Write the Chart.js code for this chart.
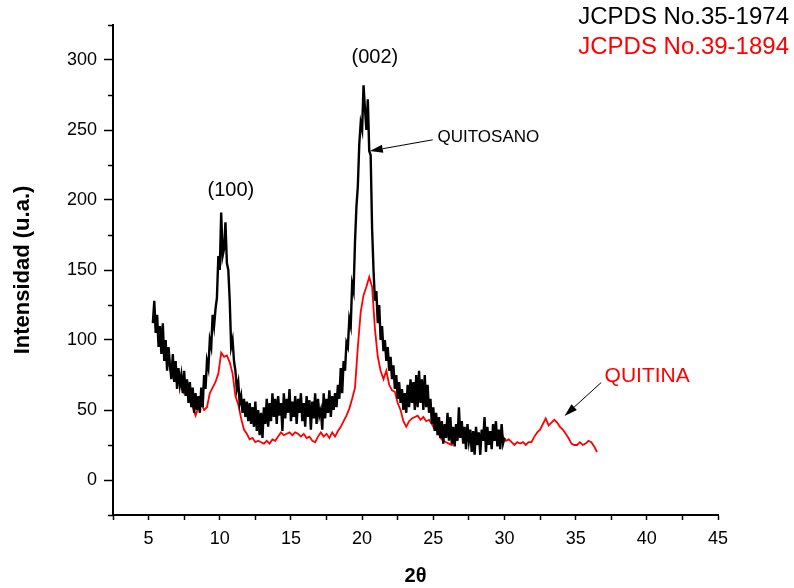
<!DOCTYPE html>
<html>
<head>
<meta charset="utf-8">
<script src="https://cdn.jsdelivr.net/npm/chart.js@4.4.1/dist/chart.umd.min.js"></script>
<style>
  body { margin: 0; background: #fff; }
  #wrap { width: 794px; height: 588px; }
</style>
</head>
<body>
<div id="wrap"><canvas id="xrd" width="794" height="588"></canvas></div>
<script>
// QUITOSANO (black), 2theta 5.3 .. 30.0
var chitosanAngle = [
  5.3,5.4,5.5,5.6,5.7,5.8,5.9,6.0,6.1,6.2,
  6.3,6.4,6.5,6.6,6.7,6.8,6.9,7.0,7.1,7.2,
  7.3,7.4,7.5,7.6,7.7,7.8,7.9,8.0,8.1,8.2,
  8.3,8.4,8.5,8.6,8.7,8.8,8.9,9.0,9.1,9.2,
  9.3,9.4,9.5,9.6,9.7,9.8,9.9,10.0,10.1,10.2,
  10.3,10.4,10.5,10.6,10.7,10.8,10.9,11.0,11.1,11.2,
  11.3,11.4,11.5,11.6,11.7,11.8,11.9,12.0,12.1,12.2,
  12.3,12.4,12.5,12.6,12.7,12.8,12.9,13.0,13.1,13.2,
  13.3,13.4,13.5,13.6,13.7,13.8,13.9,14.0,14.1,14.2,
  14.3,14.4,14.5,14.6,14.7,14.8,14.9,15.0,15.1,15.2,
  15.3,15.4,15.5,15.6,15.7,15.8,15.9,16.0,16.1,16.2,
  16.3,16.4,16.5,16.6,16.7,16.8,16.9,17.0,17.1,17.2,
  17.3,17.4,17.5,17.6,17.7,17.8,17.9,18.0,18.1,18.2,
  18.3,18.4,18.5,18.6,18.7,18.8,18.9,19.0,19.1,19.2,
  19.3,19.4,19.5,19.6,19.7,19.8,19.9,20.0,20.1,20.2,
  20.3,20.4,20.5,20.6,20.7,20.8,20.9,21.0,21.1,21.2,
  21.3,21.4,21.5,21.6,21.7,21.8,21.9,22.0,22.1,22.2,
  22.3,22.4,22.5,22.6,22.7,22.8,22.9,23.0,23.1,23.2,
  23.3,23.4,23.5,23.6,23.7,23.8,23.9,24.0,24.1,24.2,
  24.3,24.4,24.5,24.6,24.7,24.8,24.9,25.0,25.1,25.2,
  25.3,25.4,25.5,25.6,25.7,25.8,25.9,26.0,26.1,26.2,
  26.3,26.4,26.5,26.6,26.7,26.8,26.9,27.0,27.1,27.2,
  27.3,27.4,27.5,27.6,27.7,27.8,27.9,28.0,28.1,28.2,
  28.3,28.4,28.5,28.6,28.7,28.8,28.9,29.0,29.1,29.2,
  29.3,29.4,29.5,29.6,29.7,29.8,29.9,30.0
];
var chitosanCounts = [
  112,128,105,118,95,110,90,112,85,100,
  78,95,82,72,90,70,85,65,80,68,
  75,62,78,60,72,55,70,52,66,48,
  62,50,60,48,66,52,75,65,85,80,
  100,95,118,110,122,130,160,150,191,160,
  165,184,155,150,128,95,100,85,78,65,
  70,55,60,48,58,45,56,42,55,40,
  52,38,56,35,50,32,48,30,52,40,
  58,38,55,42,62,45,58,40,60,46,
  55,35,62,44,58,48,65,42,56,45,
  60,40,58,48,62,42,55,38,60,45,
  57,36,56,44,62,40,58,46,50,36,
  62,44,58,48,64,45,60,50,62,52,
  68,58,80,62,85,78,98,95,115,110,
  140,135,170,195,210,240,255,250,282,265,
  250,272,235,232,180,150,128,135,112,125,
  100,110,92,100,85,95,78,88,72,82,
  65,75,58,70,55,65,50,62,48,68,
  52,72,55,70,50,75,52,78,55,72,
  50,75,52,68,48,58,40,52,35,48,
  32,45,30,42,26,40,30,48,28,45,
  26,38,24,40,28,52,30,42,26,38,
  22,40,28,36,20,35,18,38,25,34,
  18,36,28,45,20,38,25,35,22,40,
  28,42,24,36,22,40,26,30
];

// QUITINA (red), 2theta 5.9 .. 36.5
var chitinAngle = [
  5.9,6.1,6.3,6.5,6.7,6.9,7.1,7.3,7.5,7.7,
  7.9,8.1,8.3,8.5,8.7,8.9,9.1,9.3,9.5,9.7,
  9.9,10.1,10.3,10.5,10.7,10.9,11.1,11.3,11.5,11.7,
  11.9,12.1,12.3,12.5,12.7,12.9,13.1,13.3,13.5,13.7,
  13.9,14.1,14.3,14.5,14.7,14.9,15.1,15.3,15.5,15.7,
  15.9,16.1,16.3,16.5,16.7,16.9,17.1,17.3,17.5,17.7,
  17.9,18.1,18.3,18.5,18.7,18.9,19.1,19.3,19.5,19.7,
  19.9,20.1,20.3,20.5,20.7,20.9,21.1,21.3,21.5,21.7,
  21.9,22.1,22.3,22.5,22.7,22.9,23.1,23.3,23.5,23.7,
  23.9,24.1,24.3,24.5,24.7,24.9,25.1,25.3,25.5,25.7,
  25.9,26.1,26.3,26.5,26.7,26.9,27.1,27.3,27.5,27.7,
  27.9,28.1,28.3,28.5,28.7,28.9,29.1,29.3,29.5,29.7,
  29.9,30.1,30.3,30.5,30.7,30.9,31.1,31.3,31.5,31.7,
  31.9,32.1,32.3,32.5,32.7,32.9,33.1,33.3,33.5,33.7,
  33.9,34.1,34.3,34.5,34.7,34.9,35.1,35.3,35.5,35.7,
  35.9,36.1,36.3,36.5
];
var chitinCounts = [
  107,95,90,80,84,72,76,66,62,64,
  56,52,46,52,55,50,52,62,66,70,
  76,91,88,89,84,76,60,54,44,36,
  33,29,30,27,28,27,26,28,26,29,
  28,31,34,32,33,34,32,34,33,31,
  33,30,31,28,27,31,34,31,33,30,
  34,31,35,38,42,46,51,58,66,95,
  120,132,138,145,138,108,88,78,72,78,
  68,64,63,55,50,42,38,42,44,45,
  46,43,45,42,43,40,36,35,30,28,
  27,26,25,28,30,33,34,30,28,26,
  28,27,30,29,31,29,30,32,30,29,
  31,28,29,27,25,27,26,27,25,27,
  27,31,34,36,40,44,39,41,43,41,
  38,36,33,30,26,25,25,27,25,26,
  28,27,24,20
];

var xTickLabels = [5, 10, 15, 20, 25, 30, 35, 40, 45];
var yTickLabels = [0, 50, 100, 150, 200, 250, 300];

var FONT = "'Liberation Sans', Arial, sans-serif";

function toPoints(xs, ys) {
  var pts = [];
  for (var i = 0; i < xs.length; i++) pts.push({x: xs[i], y: ys[i]});
  return pts;
}

function arrow(ctx, x1, y1, x2, y2) {
  var ang = Math.atan2(y2 - y1, x2 - x1);
  var len = 13, half = 4;
  ctx.beginPath();
  ctx.moveTo(x1, y1);
  ctx.lineTo(x2 - Math.cos(ang) * len, y2 - Math.sin(ang) * len);
  ctx.stroke();
  ctx.beginPath();
  ctx.moveTo(x2, y2);
  ctx.lineTo(x2 - Math.cos(ang) * len - Math.sin(ang) * half, y2 - Math.sin(ang) * len + Math.cos(ang) * half);
  ctx.lineTo(x2 - Math.cos(ang) * len + Math.sin(ang) * half, y2 - Math.sin(ang) * len - Math.cos(ang) * half);
  ctx.closePath();
  ctx.fill();
}

var notes = {
  id: 'notes',
  afterDraw: function(chart) {
    var ctx = chart.ctx;
    var xs = chart.scales.x, ys = chart.scales.y;
    ctx.save();

    // minor ticks on the y axis
    ctx.strokeStyle = '#000';
    ctx.lineWidth = 1.5;
    ys.ticks.forEach(function(t) {
      if (yTickLabels.indexOf(t.value) === -1) {
        var py = Math.round(ys.getPixelForValue(t.value)) + 0.5;
        ctx.beginPath();
        ctx.moveTo(xs.left - 5, py);
        ctx.lineTo(xs.left, py);
        ctx.stroke();
      }
    });

    ctx.fillStyle = '#000';
    ctx.textBaseline = 'middle';
    ctx.textAlign = 'center';
    ctx.font = '20px ' + FONT;
    ctx.fillText('(100)', xs.getPixelForValue(10.78), ys.getPixelForValue(207));
    ctx.fillText('(002)', xs.getPixelForValue(20.9), ys.getPixelForValue(302));

    ctx.textAlign = 'left';
    ctx.font = '17px ' + FONT;
    ctx.fillText('QUITOSANO', xs.getPixelForValue(25.3), ys.getPixelForValue(245));
    ctx.lineWidth = 1;
    arrow(ctx, xs.getPixelForValue(24.96), ys.getPixelForValue(243),
               xs.getPixelForValue(20.54), ys.getPixelForValue(235));

    ctx.fillStyle = '#ff0000';
    ctx.font = '21px ' + FONT;
    ctx.fillText('QUITINA', xs.getPixelForValue(37.03), ys.getPixelForValue(74));
    ctx.fillStyle = '#000';
    arrow(ctx, xs.getPixelForValue(36.79), ys.getPixelForValue(69.6),
               xs.getPixelForValue(34.22), ys.getPixelForValue(45.8));

    // card numbers, top right
    ctx.textAlign = 'right';
    ctx.font = '24px ' + FONT;
    ctx.fillStyle = '#000';
    ctx.fillText('JCPDS No.35-1974', 789, 17);
    ctx.fillStyle = '#ff0000';
    ctx.fillText('JCPDS No.39-1894', 789, 47);
    ctx.restore();
  }
};

var chart = new Chart(document.getElementById('xrd'), {
  type: 'line',
  data: {
    datasets: [
      {
        label: 'QUITOSANO',
        data: toPoints(chitosanAngle, chitosanCounts),
        borderColor: '#000000',
        borderWidth: 2.4,
        pointRadius: 0,
        tension: 0,
        fill: false
      },
      {
        label: 'QUITINA',
        data: toPoints(chitinAngle, chitinCounts),
        borderColor: '#ff0000',
        borderWidth: 1.8,
        pointRadius: 0,
        tension: 0,
        fill: false
      }
    ]
  },
  options: {
    responsive: false,
    animation: false,
    layout: { padding: { top: 25, right: 76, left: 0, bottom: 0 } },
    plugins: { legend: { display: false }, tooltip: { enabled: false } },
    scales: {
      x: {
        type: 'linear',
        min: 2.5,
        max: 45,
        afterFit: function(s) { s.height = 73; },
        border: { color: '#000', width: 2 },
        grid: { drawOnChartArea: false, tickLength: 5, tickWidth: 1.5, tickColor: '#000' },
        ticks: {
          stepSize: 2.5,
          autoSkip: false,
          maxRotation: 0,
          padding: 8,
          color: '#000',
          font: { family: FONT, size: 18 },
          callback: function(v) { return xTickLabels.indexOf(v) !== -1 ? String(v) : ''; }
        },
        title: {
          display: true,
          text: '2θ',
          color: '#000',
          font: { family: FONT, size: 20, weight: 'bold' },
          padding: { top: 0, bottom: 0 }
        }
      },
      y: {
        type: 'linear',
        min: -25,
        max: 325,
        afterFit: function(s) { s.width = 113; },
        border: { color: '#000', width: 2 },
        grid: {
          drawOnChartArea: false,
          tickLength: 9,
          tickWidth: 1.5,
          tickColor: function(c) { return c.tick && yTickLabels.indexOf(c.tick.value) !== -1 ? '#000' : 'rgba(0,0,0,0)'; }
        },
        ticks: {
          stepSize: 25,
          autoSkip: false,
          padding: 7,
          color: '#000',
          font: { family: FONT, size: 18 },
          callback: function(v) { return yTickLabels.indexOf(v) !== -1 ? String(v) : ''; }
        },
        title: {
          display: true,
          text: 'Intensidad (u.a.)',
          color: '#000',
          font: { family: FONT, size: 22, weight: 'bold' },
          padding: { top: 10, bottom: 0 }
        }
      }
    }
  },
  plugins: [notes]
});
</script>
</body>
</html>
